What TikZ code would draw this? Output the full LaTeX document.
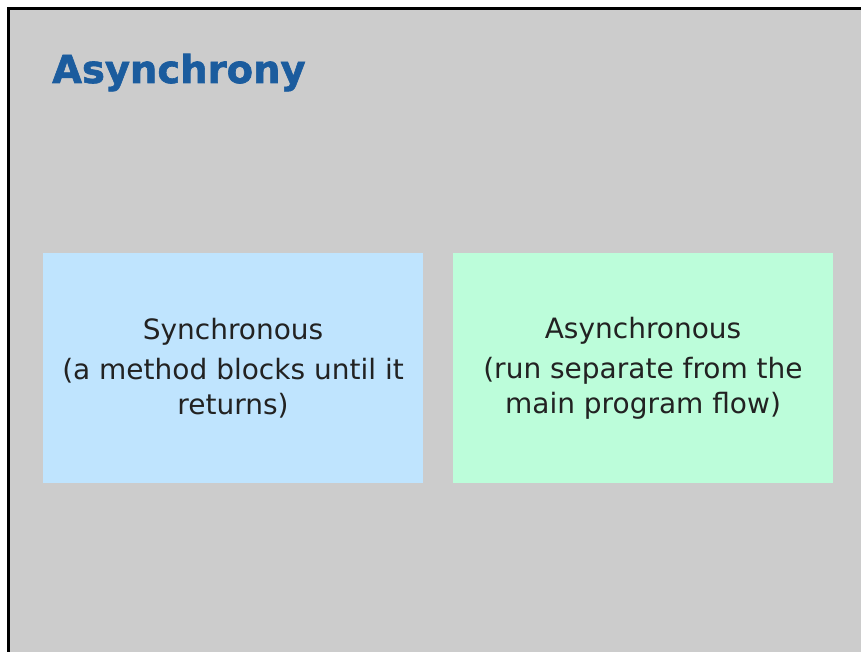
\documentclass[tikz,border=0pt]{standalone}
\usepackage{fontspec}
\setmainfont{DejaVu Sans}
\newfontfamily\titlefont{DejaVu Sans Bold}[FakeBold=1.6]
\definecolor{slidegray}{HTML}{CCCCCC}
\definecolor{titleblue}{HTML}{1B5C9E}
\definecolor{syncblue}{HTML}{BFE4FE}
\definecolor{asyncgreen}{HTML}{BCFDDA}
\definecolor{bodytext}{HTML}{222222}
\tikzset{
  card/.style={rectangle, inner sep=0pt, minimum width=380pt, minimum height=230pt,
    align=center, text=bodytext, font=\fontsize{28}{35}\selectfont},
}
\begin{document}
\begin{tikzpicture}[x=1pt, y=-1pt]
  % page and slide frame
  \useasboundingbox[fill=white] (0,0) rectangle (861,652);
  \fill[black] (7,7) rectangle (861,652);
  \fill[slidegray] (10,10) rectangle (861,652);
  % title
  \node[anchor=base west, inner sep=0pt, text=titleblue,
        font=\titlefont\fontsize{38.5}{44}\selectfont] (title) at (52,83) {Asynchrony};
  % the two cards
  \node[card, fill=syncblue] (sync) at (233,368)
    {Synchronous\\[5pt](a method blocks until it\\returns)};
  \node[card, fill=asyncgreen] (async) at (643,368)
    {Asynchronous\\[5pt](run separate from the\\main program flow)};
\end{tikzpicture}
\end{document}
